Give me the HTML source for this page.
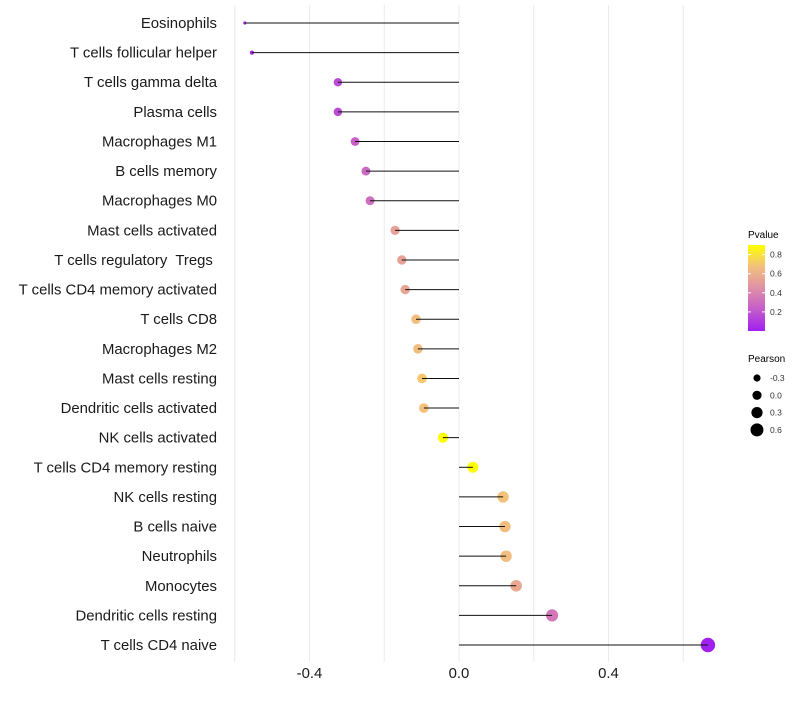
<!DOCTYPE html>
<html><head><meta charset="utf-8"><style>
body{margin:0;background:#fff}
svg{font-family:"Liberation Sans",sans-serif}
#labels text{white-space:pre}
</style></head><body>
<svg id="chart" width="800" height="700">
<defs><linearGradient id="pg" x1="0" y1="1" x2="0" y2="0">
<stop offset="0" stop-color="#a020f0"/><stop offset="0.25" stop-color="#c45ccc"/><stop offset="0.5" stop-color="#df90a6"/><stop offset="0.75" stop-color="#f2c07e"/><stop offset="1" stop-color="#ffff00"/>
</linearGradient></defs>
<g id="grid"></g>
<g id="dots"></g>
<g id="marks"></g>
<g id="labels"></g>
<g id="xticks"></g>
<g>
<text x="748" y="238" font-size="10">Pvalue</text>
<rect x="748" y="245" width="17" height="86" fill="url(#pg)"/>
<g id="pticks"></g>
</g>
<g id="pleg">
<text x="748" y="362" font-size="10">Pearson</text>
</g>
</svg>
<script>
const categories=["Eosinophils","T cells follicular helper","T cells gamma delta","Plasma cells","Macrophages M1","B cells memory","Macrophages M0","Mast cells activated","T cells regulatory  Tregs ","T cells CD4 memory activated","T cells CD8","Macrophages M2","Mast cells resting","Dendritic cells activated","NK cells activated","T cells CD4 memory resting","NK cells resting","B cells naive","Neutrophils","Monocytes","Dendritic cells resting","T cells CD4 naive"];
const pearson=[-0.573,-0.554,-0.324,-0.324,-0.278,-0.249,-0.238,-0.171,-0.153,-0.144,-0.115,-0.110,-0.099,-0.094,-0.043,0.037,0.118,0.123,0.126,0.153,0.249,0.666];
const pvalue=[0.01,0.02,0.18,0.18,0.26,0.3,0.32,0.56,0.56,0.58,0.7,0.7,0.74,0.72,0.95,0.95,0.72,0.7,0.7,0.6,0.36,0.0001];
const xTicks=[-0.4,0.0,0.4];
const xGrid=[-0.6,-0.4,-0.2,0,0.2,0.4,0.6];
const pTicks=[0.2,0.4,0.6,0.8];
const legendPearson=[-0.3,0.0,0.3,0.6];
const NS="http://www.w3.org/2000/svg";
const x=v=>459+v*373.75;
const y=i=>23+i*29.62;
const sz=[[-0.6,1.4],[-0.57,1.6],[-0.55,2.2],[-0.32,4.3],[-0.1,4.8],[0.04,5.5],[0.12,5.7],[0.25,6.1],[0.7,7.3]];
function r(v){if(v<=sz[0][0])return sz[0][1];for(let k=1;k<sz.length;k++){if(v<=sz[k][0]){const a=sz[k-1],b=sz[k];return a[1]+(b[1]-a[1])*(v-a[0])/(b[0]-a[0]);}}return sz[sz.length-1][1];}
const stops=[[0,[160,32,240]],[0.25,[196,92,204]],[0.5,[223,144,166]],[0.75,[242,192,126]],[1,[255,255,0]]];
function col(p){const t=Math.min(1,Math.max(0,p/0.95));for(let k=1;k<stops.length;k++){if(t<=stops[k][0]){const a=stops[k-1],b=stops[k],f=(t-a[0])/(b[0]-a[0]);return`rgb(${a[1].map((c,j)=>Math.round(c+(b[1][j]-c)*f)).join(',')})`;}}return"#ff0";}
function mk(tag,at,parent){const e=document.createElementNS(NS,tag);for(const k in at)e.setAttribute(k,at[k]);document.getElementById(parent).appendChild(e);return e;}
xGrid.forEach(v=>{const l=mk('line',{x1:x(v),x2:x(v),y1:5,y2:662,stroke:'#ebebeb','stroke-width':1},'grid');

});
categories.forEach((c,i)=>{
const d=mk('circle',{cx:x(pearson[i]),cy:y(i),r:r(pearson[i]),fill:col(pvalue[i])},'dots');


const l=mk('line',{x1:x(0),x2:x(pearson[i]),y1:y(i),y2:y(i),stroke:'#111','stroke-width':1},'marks');


const t=mk('text',{x:217,y:y(i)+5,'text-anchor':'end','font-size':14.9,fill:'#1a1a1a'},'labels');
t.textContent=c;


});
xTicks.forEach(v=>{const t=mk('text',{x:x(v),y:678,'text-anchor':'middle','font-size':14.9,fill:'#1a1a1a'},'xticks');
t.textContent=v.toFixed(1);

});
pTicks.forEach(v=>{const yy=331-v*95.5;
const t=mk('text',{x:770,y:yy+3,'font-size':8.5,fill:'#333'},'pticks');t.textContent=v.toFixed(1);


mk('line',{x1:748,x2:751,y1:yy,y2:yy,stroke:'#fff'},'pticks');mk('line',{x1:762,x2:765,y1:yy,y2:yy,stroke:'#fff'},'pticks');});
const legR=[3.6,4.6,5.6,6.5];
legendPearson.forEach((v,i)=>{const yy=378+i*17.3;
const c=mk('circle',{cx:757,cy:yy,r:legR[i],fill:'#000'},'pleg');


const t=mk('text',{x:770,y:yy+3,'font-size':8.5,fill:'#333'},'pleg');t.textContent=v.toFixed(1);

});
</script>
</body></html>
